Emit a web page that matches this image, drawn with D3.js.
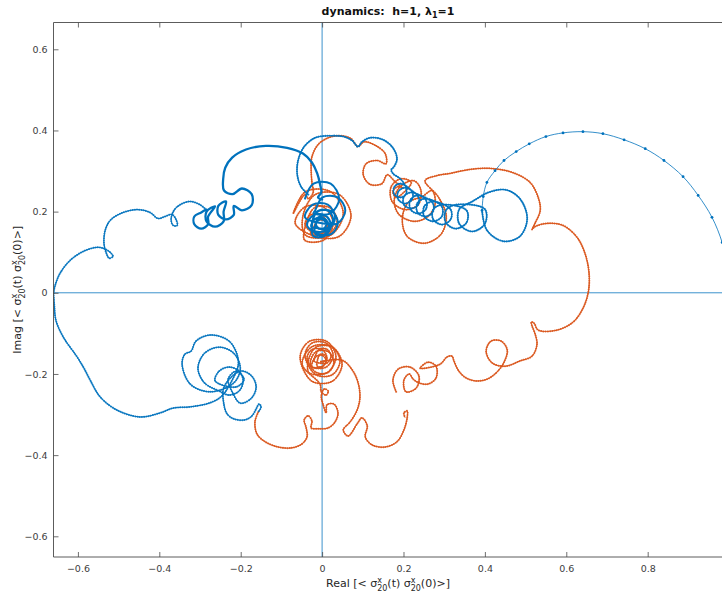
<!DOCTYPE html>
<html>
<head>
<meta charset="utf-8">
<script src="https://cdn.jsdelivr.net/npm/d3@7"></script>
<style>
  body { margin: 0; background: #fff; }
  svg { display: block; }
  text { font-family: "DejaVu Sans", sans-serif; }
</style>
</head>
<body>
<svg id="chart" width="722" height="597"></svg>
<script>
// ---- axis ticks ----
const xTicks = [-0.6, -0.4, -0.2, 0, 0.2, 0.4, 0.6, 0.8];
const yTicks = [-0.6, -0.4, -0.2, 0, 0.2, 0.4, 0.6];

// ---- blue trajectory (Real, Imag) ----
const blueArc = [[1.000,0.001],[0.995,0.068],[0.983,0.124],[0.958,0.186],[0.924,0.240],[0.887,0.286],[0.840,0.326],[0.794,0.355],[0.742,0.377],[0.690,0.392],[0.641,0.397],[0.592,0.394],[0.550,0.385],[0.509,0.367],[0.477,0.348],[0.447,0.326],[0.425,0.301],[0.405,0.272],[0.396,0.237],[0.393,0.203]];

const blueChain = [[0.393,0.203],[0.405,0.154],[0.445,0.127],[0.486,0.139],[0.504,0.183],[0.486,0.232],[0.450,0.254],[0.408,0.247],
  [0.369,0.225],[0.337,0.206],[0.337,0.170],[0.369,0.151],[0.400,0.170],[0.400,0.206],
  [0.329,0.217],[0.304,0.203],[0.304,0.173],[0.329,0.158],[0.355,0.173],[0.355,0.203],
  [0.295,0.217],[0.273,0.205],[0.273,0.181],[0.295,0.168],[0.316,0.181],[0.316,0.205],
  [0.273,0.225],[0.251,0.213],[0.251,0.188],[0.273,0.176],[0.294,0.188],[0.294,0.213],
  [0.253,0.232],[0.234,0.221],[0.234,0.199],[0.253,0.188],[0.272,0.199],[0.272,0.221],
  [0.236,0.240],[0.217,0.229],[0.217,0.206],[0.236,0.195],[0.255,0.206],[0.255,0.229],
  [0.219,0.247],[0.201,0.237],[0.201,0.217],[0.219,0.208],[0.236,0.217],[0.236,0.237],
  [0.204,0.259],[0.187,0.249],[0.187,0.230],[0.204,0.220],[0.221,0.230],[0.221,0.249],
  [0.192,0.269],[0.177,0.260],[0.177,0.243],[0.192,0.235],[0.206,0.243],[0.206,0.260],
  [0.192,0.281],[0.174,0.294],[0.170,0.303],[0.177,0.311],[0.184,0.330],[0.174,0.357],[0.150,0.377],[0.118,0.382],[0.098,0.372],[0.088,0.360],[0.074,0.375],[0.052,0.385],[0.020,0.387],[-0.017,0.382],[-0.044,0.360],[-0.059,0.326],[-0.061,0.291],[-0.052,0.262],[-0.034,0.242]];

const blueCore = [[-0.042,0.232],[-0.021,0.269],[0.021,0.269],[0.042,0.232],[0.021,0.196],[-0.021,0.196],
  [-0.017,0.203],[0.001,0.235],[0.038,0.235],[0.057,0.203],[0.038,0.171],[0.001,0.171],
  [-0.042,0.186],[-0.023,0.217],[0.014,0.217],[0.032,0.186],[0.014,0.154],[-0.023,0.154],
  [-0.025,0.173],[-0.009,0.201],[0.023,0.201],[0.039,0.173],[0.023,0.145],[-0.009,0.145],
  [-0.037,0.166],[-0.022,0.191],[0.007,0.191],[0.022,0.166],[0.007,0.140],[-0.022,0.140],
  [-0.022,0.181],[-0.010,0.202],[0.015,0.202],[0.027,0.181],[0.015,0.159],[-0.010,0.159],
  [-0.027,0.163],[-0.016,0.183],[0.006,0.183],[0.017,0.163],[0.006,0.144],[-0.016,0.144],
  [-0.015,0.173],[-0.006,0.188],[0.011,0.188],[0.020,0.173],[0.011,0.158],[-0.006,0.158],
  [-0.015,0.168],[-0.009,0.179],[0.004,0.179],[0.010,0.168],[0.004,0.158],[-0.009,0.158]];

const blueUpperLeft = [[-0.660,-0.001],[-0.656,0.018],[-0.644,0.048],[-0.619,0.080],[-0.587,0.102],[-0.553,0.112],[-0.536,0.109],[-0.521,0.100],[-0.514,0.090],[-0.523,0.085],[-0.531,0.100],[-0.536,0.122],[-0.533,0.154],[-0.521,0.178],[-0.496,0.195],[-0.455,0.205],[-0.423,0.198],[-0.403,0.183],[-0.386,0.188],[-0.369,0.193],[-0.359,0.181],[-0.356,0.166],[-0.366,0.166],[-0.371,0.181],[-0.364,0.203],[-0.349,0.217],[-0.324,0.225],[-0.300,0.217],[-0.285,0.205]];

const blueThick = [[-0.285,0.205],
  [-0.297,0.198],[-0.314,0.188],[-0.314,0.169],[-0.297,0.158],[-0.280,0.169],[-0.280,0.188],
  [-0.263,0.213],[-0.284,0.200],[-0.284,0.176],[-0.263,0.163],[-0.242,0.176],[-0.242,0.200],
  [-0.236,0.225],[-0.255,0.214],[-0.255,0.192],[-0.236,0.181],[-0.217,0.192],[-0.217,0.214],
  [-0.197,0.203],[-0.173,0.216],[-0.173,0.243],[-0.197,0.257],[-0.220,0.243],[-0.241,0.252],[-0.243,0.281],[-0.238,0.308],[-0.221,0.333],[-0.187,0.353],[-0.138,0.362],[-0.086,0.357],[-0.047,0.343],[-0.025,0.321],[-0.012,0.294],[-0.005,0.267],[-0.002,0.247],[-0.010,0.235],[0.000,0.230]];

const blueLowerLeft = [[-0.660,-0.001],[-0.658,-0.031],[-0.654,-0.068],[-0.636,-0.109],[-0.602,-0.158],[-0.585,-0.186],[-0.570,-0.215],[-0.545,-0.257],[-0.504,-0.289],[-0.447,-0.306],[-0.398,-0.296],[-0.366,-0.284],[-0.324,-0.281],[-0.275,-0.271],[-0.246,-0.254],
  [-0.221,-0.215],[-0.206,-0.178],[-0.211,-0.146],[-0.231,-0.117],[-0.275,-0.104],[-0.310,-0.119],[-0.322,-0.144],[-0.337,-0.151],[-0.344,-0.176],[-0.324,-0.225],[-0.275,-0.244],
  [-0.217,-0.222],[-0.201,-0.186],[-0.217,-0.149],[-0.253,-0.134],[-0.289,-0.149],[-0.305,-0.186],[-0.289,-0.222],
  [-0.253,-0.242],[-0.229,-0.252],[-0.204,-0.242],[-0.194,-0.217],[-0.204,-0.193],[-0.229,-0.183],[-0.253,-0.193],[-0.263,-0.217],
  [-0.211,-0.232],[-0.192,-0.213],[-0.211,-0.193],[-0.231,-0.213],
  [-0.221,-0.244],[-0.201,-0.272],[-0.174,-0.260],[-0.162,-0.232],[-0.174,-0.204],[-0.201,-0.193],[-0.241,-0.232],
  [-0.241,-0.276],[-0.233,-0.299],[-0.216,-0.311],[-0.189,-0.313],[-0.172,-0.303],[-0.162,-0.286],[-0.155,-0.274],[-0.150,-0.281],[-0.157,-0.294]];

// ---- orange trajectory (Real, Imag) ----
const orangeLowerTail = [[-0.157,-0.294],[-0.165,-0.318],[-0.160,-0.348],[-0.140,-0.367],[-0.108,-0.380],[-0.074,-0.382],[-0.049,-0.372],[-0.037,-0.355],[-0.039,-0.333],[-0.044,-0.313],[-0.034,-0.303],[-0.025,-0.316],[-0.027,-0.333],[-0.010,-0.335],[0.015,-0.333],[0.032,-0.318],[0.039,-0.296],[0.029,-0.274],[0.012,-0.276],[0.010,-0.296],[0.002,-0.274],[-0.002,-0.254],[0.005,-0.237],[0.015,-0.242],[0.010,-0.252],[-0.002,-0.244],[-0.005,-0.225]];

const orangeLowerCore = [[-0.049,-0.176],[-0.025,-0.133],[0.025,-0.133],[0.049,-0.176],[0.025,-0.218],[-0.025,-0.218],
  [-0.054,-0.158],[-0.032,-0.120],[0.012,-0.120],[0.034,-0.158],[0.012,-0.197],[-0.032,-0.197],
  [-0.034,-0.168],[-0.015,-0.134],[0.025,-0.134],[0.044,-0.168],[0.025,-0.202],[-0.015,-0.202],
  [-0.042,-0.154],[-0.025,-0.124],[0.010,-0.124],[0.027,-0.154],[0.010,-0.183],[-0.025,-0.183],
  [-0.029,-0.171],[-0.015,-0.145],[0.015,-0.145],[0.029,-0.171],[0.015,-0.196],[-0.015,-0.196],
  [-0.037,-0.161],[-0.025,-0.140],[0.000,-0.140],[0.012,-0.161],[0.000,-0.182],[-0.025,-0.182],
  [-0.017,-0.156],[-0.007,-0.139],[0.012,-0.139],[0.022,-0.156],[0.012,-0.173],[-0.007,-0.173],
  [-0.020,-0.168],[-0.012,-0.155],[0.002,-0.155],[0.010,-0.168],[0.002,-0.181],[-0.012,-0.181],
  [-0.010,-0.161],[-0.005,-0.152],[0.005,-0.152],[0.010,-0.161],[0.005,-0.170],[-0.005,-0.170]];

const orangeLowerArc = [[0.049,-0.166],[0.074,-0.190],[0.088,-0.220],[0.093,-0.257],[0.086,-0.289],[0.069,-0.318],[0.052,-0.338],[0.064,-0.353],[0.086,-0.323],[0.098,-0.308],[0.111,-0.328],[0.106,-0.355],[0.123,-0.375],[0.155,-0.380],[0.184,-0.367],[0.201,-0.338],[0.209,-0.308],[0.209,-0.291],[0.201,-0.296],[0.204,-0.308]];

const orangeRight = [[0.182,-0.244],[0.174,-0.215],[0.187,-0.188],[0.216,-0.183],[0.238,-0.205],[0.231,-0.235],[0.206,-0.244],[0.201,-0.215],[0.214,-0.200],[0.224,-0.213],[0.238,-0.222],
  [0.260,-0.225],[0.280,-0.210],[0.280,-0.181],[0.260,-0.171],[0.241,-0.186],[0.290,-0.176],
  [0.307,-0.158],[0.319,-0.156],[0.324,-0.168],[0.334,-0.190],[0.351,-0.208],[0.376,-0.217],[0.405,-0.213],[0.430,-0.195],
  [0.447,-0.171],[0.455,-0.141],[0.440,-0.119],[0.415,-0.119],[0.403,-0.144],[0.418,-0.173],[0.450,-0.181],[0.486,-0.168],[0.516,-0.156],[0.528,-0.127],[0.523,-0.100],[0.516,-0.082],[0.514,-0.072],[0.521,-0.075],[0.531,-0.092],
  [0.577,-0.092],[0.617,-0.072],[0.641,-0.038],[0.654,0.001],[0.656,0.048],[0.646,0.097],[0.627,0.136],[0.592,0.166],[0.553,0.171],[0.523,0.163],[0.516,0.156],[0.523,0.171],[0.536,0.203],[0.531,0.235],[0.511,0.272],[0.469,0.296],[0.420,0.306],[0.381,0.306],[0.346,0.301],[0.314,0.294],[0.283,0.289],[0.253,0.276],
  [0.285,0.237],[0.305,0.190],[0.292,0.144],[0.251,0.122],[0.209,0.139],[0.197,0.181],[0.211,0.222],[0.246,0.237],
  [0.270,0.252],[0.278,0.220],[0.260,0.188],[0.226,0.176],[0.189,0.193],[0.177,0.227],[0.192,0.262],[0.226,0.276],
  [0.243,0.252],[0.236,0.217],[0.204,0.205],[0.172,0.225],[0.170,0.262],[0.194,0.281],[0.219,0.272],
  [0.197,0.244],[0.182,0.235],[0.174,0.250],[0.187,0.262],[0.199,0.257],[0.179,0.274],
  [0.160,0.291],[0.147,0.269],[0.118,0.267],[0.101,0.291],[0.108,0.318],[0.135,0.326],[0.157,0.318],[0.155,0.343],[0.133,0.362],[0.103,0.372],[0.088,0.360],[0.071,0.380],[0.044,0.387],[0.015,0.382],[-0.010,0.365],[-0.025,0.335],[-0.027,0.306],[-0.025,0.272],[-0.022,0.247],[-0.034,0.232],[-0.042,0.242]];

const orangeUpperCore = [[-0.071,0.195],[-0.041,0.249],[0.021,0.249],[0.052,0.195],[0.021,0.142],[-0.041,0.142],
  [-0.047,0.190],[-0.017,0.242],[0.042,0.242],[0.071,0.190],[0.042,0.139],[-0.017,0.139],
  [-0.066,0.171],[-0.043,0.211],[0.004,0.211],[0.027,0.171],[0.004,0.130],[-0.043,0.130],
  [-0.037,0.178],[-0.018,0.210],[0.018,0.210],[0.037,0.178],[0.018,0.146],[-0.018,0.146],
  [-0.042,0.168],[-0.028,0.192],[-0.001,0.192],[0.012,0.168],[-0.001,0.145],[-0.028,0.145],
  [-0.020,0.163],[-0.011,0.178],[0.006,0.178],[0.015,0.163],[0.006,0.148],[-0.011,0.148]];

// ---- layout ----
const BLUE = "#0072BD", ORANGE = "#D95319", AXIS = "#4a4a4a";
const plot = { left: 53.5, top: 22.5, right: 725, bottom: 557 };
const svg = d3.select("#chart");

const x = d3.scaleLinear().domain([-0.66, 0.99]).range([plot.left, plot.right]);
const y = d3.scaleLinear().domain([-0.651, 0.666]).range([plot.bottom, plot.top]);

svg.append("defs").append("clipPath").attr("id", "plotClip")
  .append("rect").attr("x", plot.left).attr("y", plot.top)
  .attr("width", plot.right - plot.left).attr("height", plot.bottom - plot.top);

const body = svg.append("g").attr("clip-path", "url(#plotClip)");

// zero reference lines
body.append("line").attr("x1", x(0)).attr("x2", x(0)).attr("y1", plot.top).attr("y2", plot.bottom)
  .attr("stroke", BLUE).attr("stroke-width", 0.9).attr("opacity", 0.85);
body.append("line").attr("x1", plot.left).attr("x2", plot.right).attr("y1", y(0)).attr("y2", y(0))
  .attr("stroke", BLUE).attr("stroke-width", 0.9).attr("opacity", 0.85);

const line = d3.line().x(d => x(d[0])).y(d => y(d[1])).curve(d3.curveCatmullRom.alpha(0.5));

// densely sampled trace: thin line with closely spaced point markers
function dotted(data, color, w) {
  body.append("path").attr("d", line(data)).attr("fill", "none")
    .attr("stroke", color).attr("stroke-width", w * 0.5).attr("stroke-linejoin", "round");
  body.append("path").attr("d", line(data)).attr("fill", "none")
    .attr("stroke", color).attr("stroke-width", w).attr("opacity", 0.85)
    .attr("stroke-linecap", "round").attr("stroke-dasharray", "0.01 2.2");
}
function solid(data, color, w) {
  body.append("path").attr("d", line(data)).attr("fill", "none")
    .attr("stroke", color).attr("stroke-width", w)
    .attr("stroke-linejoin", "round").attr("stroke-linecap", "round");
}

// orange first, blue drawn over it
dotted(orangeLowerTail.concat(orangeLowerCore, orangeLowerArc), ORANGE, 2.0);
dotted(orangeRight.concat(orangeUpperCore), ORANGE, 2.0);

dotted(blueUpperLeft, BLUE, 2.0);
solid(blueThick, BLUE, 2.3);
dotted(blueLowerLeft, BLUE, 2.0);
dotted(blueChain, BLUE, 2.1);
solid(blueCore, BLUE, 2.0);

// sparse early part of the blue trace with visible markers
solid(blueArc, BLUE, 0.8);
body.append("g").selectAll("circle").data(blueArc).join("circle")
  .attr("cx", d => x(d[0])).attr("cy", d => y(d[1])).attr("r", 1.4).attr("fill", BLUE);

// ---- axes ----
const fmt = d => d === 0 ? "0" : d3.format(".1f")(d);

const gx = svg.append("g").attr("transform", `translate(0,${plot.bottom})`)
  .call(d3.axisBottom(x).tickValues(xTicks).tickFormat(fmt).tickSizeInner(-5).tickSizeOuter(0).tickPadding(8));
const gxt = svg.append("g").attr("transform", `translate(0,${plot.top})`)
  .call(d3.axisTop(x).tickValues(xTicks).tickFormat("").tickSizeInner(-5).tickSizeOuter(0));
const gy = svg.append("g").attr("transform", `translate(${plot.left},0)`)
  .call(d3.axisLeft(y).tickValues(yTicks).tickFormat(fmt).tickSizeInner(-5).tickSizeOuter(0).tickPadding(6));

[gx, gxt, gy].forEach(g => {
  g.select(".domain").remove();
  g.selectAll("line").attr("stroke", AXIS).attr("stroke-width", 0.8);
  g.selectAll("text").attr("fill", "#404040").attr("font-size", 9.5)
    .attr("font-family", "'DejaVu Sans', sans-serif");
});

// frame
svg.append("path")
  .attr("d", `M${plot.right},${plot.top}H${plot.left}V${plot.bottom}H${plot.right}`)
  .attr("fill", "none").attr("stroke", AXIS).attr("stroke-width", 0.9);

// ---- title ----
const title = svg.append("text").attr("x", 388).attr("y", 15).attr("text-anchor", "middle")
  .attr("font-size", 11).attr("font-weight", "bold").attr("fill", "#111");
title.append("tspan").text("dynamics:\u00a0 h=1, λ");
title.append("tspan").attr("font-size", 8).attr("dy", 3).text("1");
title.append("tspan").attr("dy", -3).text("=1");

// axis label with sigma^x_20 factors
function sigmaLabel(sel, head) {
  sel.append("tspan").text(head + " [< σ");
  sel.append("tspan").attr("font-size", 8).attr("dy", -4.5).text("x");
  sel.append("tspan").attr("font-size", 8).attr("dx", -4.8).attr("dy", 8).text("20");
  sel.append("tspan").attr("dy", -3.5).text("(t) σ");
  sel.append("tspan").attr("font-size", 8).attr("dy", -4.5).text("x");
  sel.append("tspan").attr("font-size", 8).attr("dx", -4.8).attr("dy", 8).text("20");
  sel.append("tspan").attr("dy", -3.5).text("(0)>]");
}

const xl = svg.append("text").attr("x", 388).attr("y", 587).attr("text-anchor", "middle")
  .attr("font-size", 11).attr("fill", "#262626");
sigmaLabel(xl, "Real");

const yl = svg.append("text").attr("transform", `translate(21,${(plot.top + plot.bottom) / 2}) rotate(-90)`)
  .attr("text-anchor", "middle").attr("font-size", 11).attr("fill", "#262626");
sigmaLabel(yl, "Imag");
</script>
</body>
</html>
